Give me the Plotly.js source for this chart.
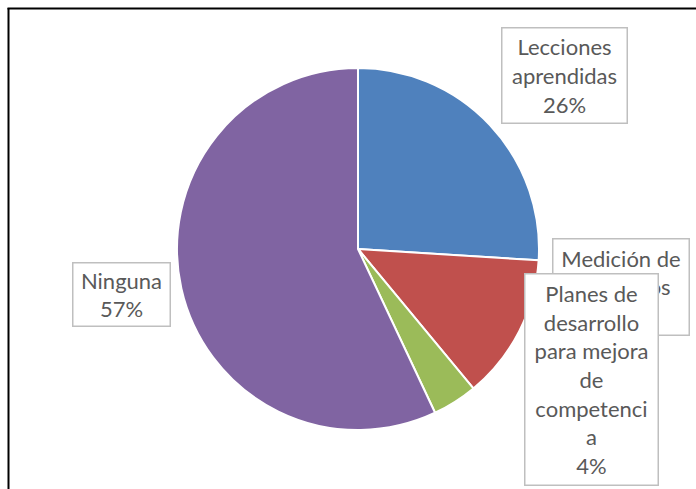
<!DOCTYPE html>
<html><head><meta charset="utf-8">
<script src="https://cdn.plot.ly/plotly-3.0.1.min.js"></script>
<style>html,body{margin:0;padding:0;background:#fff}#chart{width:696px;height:489px}</style>
</head><body><div id="chart"></div>
<script>
const categories = ["Lecciones<br>aprendidas", "Medición de<br>resultados", "Planes de<br>desarrollo<br>para mejora<br>de<br>competenci<br>a", "Ninguna"];
const values = [26, 13, 4, 57];
const colors = ["#4F81BD", "#C0504D", "#9BBB59", "#8064A2"];

const W = 696, H = 489;
// label box centers and sizes in pixels
const boxes = [
  {cx: 564, cy: 75, w: 126, h: 96},
  {cx: 621, cy: 287, w: 137, h: 97},
  {cx: 591, cy: 379, w: 134, h: 212},
  {cx: 121, cy: 294, w: 98, h: 64}
];
const total = values.reduce((a, b) => a + b, 0);
const annotations = categories.map((c, i) => ({
  xref: 'paper', yref: 'paper',
  x: boxes[i].cx / W, y: 1 - boxes[i].cy / H,
  xanchor: 'center', yanchor: 'middle',
  text: c + '<br>' + Math.round(values[i] / total * 100) + '%',
  showarrow: false,
  font: {family: 'Lato, "Open Sans", sans-serif', size: 22, color: '#595959'},
  bgcolor: '#ffffff', bordercolor: '#BFBFBF', borderwidth: 1.5,
  width: boxes[i].w - 4, height: boxes[i].h - 4, align: 'center'
}));

const cx = 358, cy = 249, r = 181;
const data = [{
  type: 'pie', values: values, labels: categories,
  marker: {colors: colors, line: {color: '#ffffff', width: 2}},
  sort: false, direction: 'clockwise', rotation: 0,
  textinfo: 'none', hoverinfo: 'none', showlegend: false,
  domain: {x: [(cx - r) / W, (cx + r) / W], y: [1 - (cy + r) / H, 1 - (cy - r) / H]}
}];
const layout = {
  width: W, height: H, margin: {l: 0, r: 0, t: 0, b: 0},
  paper_bgcolor: '#ffffff', showlegend: false,
  annotations: annotations,
  shapes: [
    {type: 'line', xref: 'paper', yref: 'paper', x0: 8.5 / W, x1: 8.5 / W, y0: 1 - 8 / H, y1: 0, line: {color: '#000', width: 2}},
    {type: 'line', xref: 'paper', yref: 'paper', x0: 7.5 / W, x1: 1, y0: 1 - 8.5 / H, y1: 1 - 8.5 / H, line: {color: '#000', width: 2}}
  ]
};
Plotly.newPlot('chart', data, layout, {displayModeBar: false, staticPlot: true});
</script></body></html>
